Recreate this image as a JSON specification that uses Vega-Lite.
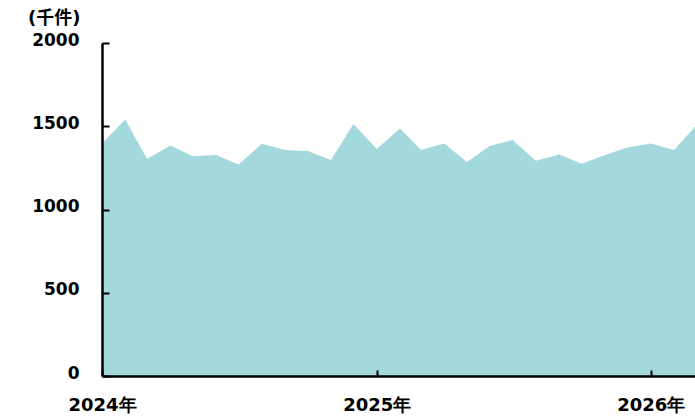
{
  "$schema": "https://vega.github.io/schema/vega-lite/v6.json",
  "width": 593,
  "height": 333,
  "autosize": {"type": "none"},
  "padding": {"left": 102, "top": 43, "right": 0, "bottom": 43},
  "background": "white",
  "config": {"view": {"stroke": null}},
  "data": {
    "values": [
      {"date": "2024-01-01", "value": 1397},
      {"date": "2024-02-01", "value": 1541},
      {"date": "2024-03-01", "value": 1303},
      {"date": "2024-04-01", "value": 1385},
      {"date": "2024-05-01", "value": 1320},
      {"date": "2024-06-01", "value": 1327},
      {"date": "2024-07-01", "value": 1271},
      {"date": "2024-08-01", "value": 1395},
      {"date": "2024-09-01", "value": 1357},
      {"date": "2024-10-01", "value": 1351},
      {"date": "2024-11-01", "value": 1297},
      {"date": "2024-12-01", "value": 1513},
      {"date": "2025-01-01", "value": 1363},
      {"date": "2025-02-01", "value": 1487},
      {"date": "2025-03-01", "value": 1357},
      {"date": "2025-04-01", "value": 1397},
      {"date": "2025-05-01", "value": 1286},
      {"date": "2025-06-01", "value": 1383},
      {"date": "2025-07-01", "value": 1417},
      {"date": "2025-08-01", "value": 1293},
      {"date": "2025-09-01", "value": 1331},
      {"date": "2025-10-01", "value": 1275},
      {"date": "2025-11-01", "value": 1327},
      {"date": "2025-12-01", "value": 1373},
      {"date": "2026-01-01", "value": 1397},
      {"date": "2026-02-01", "value": 1357},
      {"date": "2026-03-01", "value": 1497}
    ]
  },
  "mark": {"type": "area", "color": "#A3D8DC", "opacity": 1, "clip": true},
  "encoding": {
    "x": {
      "field": "date",
      "type": "temporal",
      "scale": {"type": "utc", "nice": false},
      "axis": {
        "title": null,
        "tickCount": "year",
        "labelExpr": "utcFormat(datum.value, '%Y') + '年'",
        "labelFont": "DejaVu Sans",
        "labelFontWeight": "bold",
        "labelFontSize": 18,
        "labelColor": "#000000",
        "labelPadding": 26,
        "labelFlush": false,
        "labelOverlap": false,
        "domainColor": "#000000",
        "domainWidth": 2.5,
        "tickColor": "#000000",
        "tickWidth": 2,
        "tickSize": -6,
        "grid": false,
        "zindex": 1
      }
    },
    "y": {
      "field": "value",
      "type": "quantitative",
      "scale": {"domain": [0, 2000], "nice": false},
      "axis": {
        "values": [0, 500, 1000, 1500, 2000],
        "format": "d",
        "title": "(千件)",
        "titleAngle": 0,
        "titleAlign": "right",
        "titleBaseline": "middle",
        "titleX": -22,
        "titleY": -25,
        "titleFont": "DejaVu Sans, Noto Sans CJK JP",
        "titleFontWeight": "bold",
        "titleFontSize": 18,
        "titleColor": "#000000",
        "labelFont": "DejaVu Sans",
        "labelFontWeight": "bold",
        "labelFontSize": 17,
        "labelColor": "#000000",
        "labelPadding": 30,
        "labelOffset": -3,
        "domainColor": "#000000",
        "domainWidth": 2.5,
        "tickColor": "#000000",
        "tickWidth": 2,
        "tickSize": -7,
        "grid": false,
        "zindex": 1
      }
    }
  }
}
